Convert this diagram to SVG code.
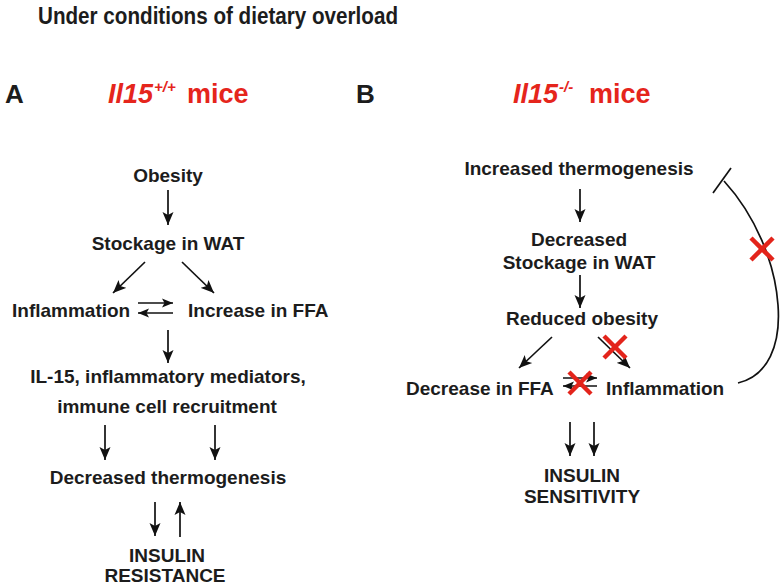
<svg xmlns="http://www.w3.org/2000/svg" width="780" height="586" viewBox="0 0 780 586">
<defs>
<style>
text{font-family:"Liberation Sans",Arial,sans-serif;font-weight:bold;fill:#1c1c1c}
.t{font-size:19px}
.c{text-anchor:middle}
.red{fill:#e5251c}
.hd{font-size:27px}
.ln{stroke:#111;stroke-width:1.7;fill:none}
.arr{marker-end:url(#ah)}
.sm{marker-end:url(#ahs)}
.x{stroke:#e3241b;stroke-width:4.5;stroke-linecap:butt}
</style>
<marker id="ah" markerUnits="userSpaceOnUse" markerWidth="14" markerHeight="12" refX="13" refY="6" orient="auto">
<path d="M0,0.5 L13,6 L0,11.5 L3,6 z" fill="#111"/>
</marker>
<marker id="ahs" markerUnits="userSpaceOnUse" markerWidth="12" markerHeight="10" refX="11" refY="5" orient="auto">
<path d="M0,0.5 L11,5 L0,9.5 L2.5,5 z" fill="#111"/>
</marker>
</defs>
<rect width="780" height="586" fill="#fff"/>
<text x="38" y="24" style="font-size:23px" textLength="360" lengthAdjust="spacingAndGlyphs">Under conditions of dietary overload</text>
<g id="panelA-label">
<text x="5" y="103" style="font-size:26px">A</text>
<text class="red hd" y="103"><tspan x="108" font-style="italic">Il15</tspan><tspan x="154" y="92" style="font-size:15px" font-style="italic">+/+</tspan><tspan x="187" y="103">mice</tspan></text>
</g>
<g id="panelB-label">
<text x="356" y="103" style="font-size:26px">B</text>
<text class="red hd" y="103"><tspan x="513" font-style="italic">Il15</tspan><tspan x="559" y="92" style="font-size:15px" font-style="italic">-/-</tspan><tspan x="589" y="103">mice</tspan></text>
</g>
<g id="a-obesity"><text class="t c" x="168" y="182">Obesity</text></g>
<g id="a-stockage"><text class="t c" x="168" y="250">Stockage in WAT</text></g>
<g id="a-inflammation"><text class="t" x="12" y="317">Inflammation</text></g>
<g id="a-ffa"><text class="t" x="188" y="317">Increase in FFA</text></g>
<g id="a-il15"><text class="t c" x="168" y="383">IL-15, inflammatory mediators,</text><text class="t c" x="167" y="413">immune cell recruitment</text></g>
<g id="a-thermo"><text class="t c" x="168" y="484">Decreased thermogenesis</text></g>
<g id="a-insulin"><text class="t c" x="167" y="562">INSULIN</text><text class="t c" x="165" y="582">RESISTANCE</text></g>
<g id="b-thermo"><text class="t c" x="579" y="175">Increased thermogenesis</text></g>
<g id="b-stockage"><text class="t c" x="579" y="246">Decreased</text><text class="t c" x="579" y="269">Stockage in WAT</text></g>
<g id="b-obesity"><text class="t c" x="582" y="325">Reduced obesity</text></g>
<g id="b-ffa"><text class="t" x="406" y="395">Decrease in FFA</text></g>
<g id="b-inflammation"><text class="t" x="606" y="395">Inflammation</text></g>
<g id="b-insulin"><text class="t c" x="582" y="482">INSULIN</text><text class="t c" x="582" y="503">SENSITIVITY</text></g>
<g id="connectors">
<line class="ln arr" x1="168" y1="190" x2="168" y2="225"/>
<line class="ln arr" x1="145" y1="262" x2="113" y2="293"/>
<line class="ln arr" x1="182" y1="262" x2="214" y2="293"/>
<line class="ln sm" x1="138" y1="303" x2="173" y2="303"/>
<line class="ln sm" x1="173" y1="313" x2="138" y2="313"/>
<line class="ln arr" x1="168" y1="330" x2="168" y2="363"/>
<line class="ln arr" x1="105" y1="425" x2="105" y2="460"/>
<line class="ln arr" x1="215" y1="425" x2="215" y2="460"/>
<line class="ln arr" x1="155" y1="502" x2="155" y2="536"/>
<line class="ln arr" x1="180" y1="537" x2="180" y2="502"/>
<line class="ln arr" x1="580" y1="189" x2="580" y2="222"/>
<line class="ln arr" x1="580" y1="275" x2="580" y2="308"/>
<line class="ln arr" x1="552" y1="337" x2="519" y2="368"/>
<line class="ln arr" x1="598" y1="337" x2="630" y2="368"/>
<line class="ln sm" x1="563" y1="378" x2="597" y2="378"/>
<line class="ln sm" x1="597" y1="386" x2="563" y2="386"/>
<line class="ln arr" x1="570" y1="422" x2="570" y2="456"/>
<line class="ln arr" x1="594" y1="422" x2="594" y2="456"/>
<path class="ln" d="M738,383 C768,376 781,345 778,305 C775,262 755,215 724,181"/>
<line class="ln" x1="713" y1="193" x2="731" y2="168"/>
<g id="crosses">
<line class="x" x1="604" y1="336" x2="626" y2="358"/><line class="x" x1="626" y1="336" x2="604" y2="358"/>
<line class="x" x1="569" y1="372" x2="591" y2="394"/><line class="x" x1="591" y1="372" x2="569" y2="394"/>
<line class="x" x1="751" y1="238" x2="773" y2="260"/><line class="x" x1="773" y1="238" x2="751" y2="260"/>
</g>
</g>
</svg>
